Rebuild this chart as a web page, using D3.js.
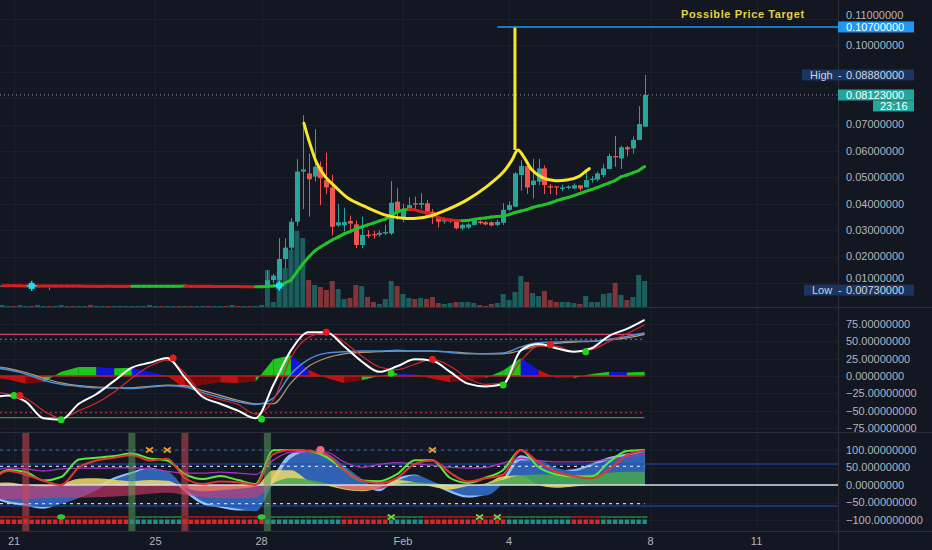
<!DOCTYPE html>
<html><head><meta charset="utf-8">
<script src="https://cdn.jsdelivr.net/npm/d3@7/dist/d3.min.js"></script>
<style>html,body{margin:0;padding:0;background:#131722;overflow:hidden}svg{display:block}text{font-family:"Liberation Sans",Arial,sans-serif}</style>
</head><body><svg id="chart" width="932" height="550" font-family="Liberation Sans, Arial, sans-serif"></svg>
<script>
// ---------------- DATA ----------------
// 4h candles starting 2021-01-20 16:00 UTC
const OPEN = [
.0089,.0089,.0089,.0088,.0089,.0089,.0088,.0088,.0089,.0088,
.0088,.0088,.0088,.0087,.0088,.0088,.0087,.0087,.0088,.0087,
.0087,.0087,.0087,.0087,.0088,.0088,.0088,.0089,.0088,.0088,
.0089,.0088,.0088,.0087,.0087,.0087,.0086,.0086,.0087,.0086,
.0086,.0085,.0086,.0085,.0085,
.0089,.0111,.0112,.0191,.0234,.0332,.0522,.0515,.0503,.0540,
.0490,.0462,.0318,.0319,.0335,.0322,.0244,.0283,.0285,.0283,
.0288,.0288,.0408,.0349,.0377,.0402,.0397,.0402,.0370,.0349,
.0333,.0334,.0335,.0307,.0310,.0320,.0333,.0330,.0330,.0320,
.0328,.0377,.0389,.0509,.0543,.0471,.0484,.0534,.0467,.0466,
.0457,.0460,.0458,.0470,.0462,.0490,.0492,.0509,.0532,.0581,
.0572,.0614,.0610,.0642,.0692];
const HIGH = [
.0091,.0090,.0090,.0090,.0091,.0090,.0089,.0090,.0090,.0089,
.0089,.0090,.0089,.0089,.0090,.0089,.0088,.0089,.0089,.0088,
.0088,.0089,.0088,.0089,.0089,.0090,.0090,.0090,.0089,.0090,
.0090,.0089,.0089,.0088,.0088,.0088,.0087,.0088,.0088,.0087,
.0087,.0087,.0087,.0086,.0088,
.0149,.0135,.0270,.0269,.0345,.0569,.0736,.0590,.0683,.0560,
.0594,.0510,.0400,.0385,.0355,.0337,.0352,.0300,.0298,.0300,
.0320,.0486,.0459,.0400,.0425,.0427,.0440,.0415,.0380,.0355,
.0350,.0345,.0337,.0325,.0328,.0345,.0337,.0335,.0334,.0340,
.0402,.0410,.0520,.0565,.0554,.0570,.0570,.0545,.0475,.0466,
.0473,.0470,.0477,.0470,.0525,.0505,.0522,.0550,.0590,.0657,
.0620,.0620,.0655,.0770,.0888];
const LOW = [
.0087,.0088,.0087,.0087,.0088,.0087,.0087,.0087,.0073,.0087,
.0087,.0086,.0086,.0086,.0087,.0086,.0086,.0086,.0086,.0086,
.0086,.0086,.0086,.0086,.0087,.0087,.0087,.0087,.0087,.0087,
.0087,.0087,.0086,.0086,.0086,.0085,.0085,.0085,.0085,.0085,
.0084,.0084,.0084,.0084,.0084,
.0085,.0100,.0110,.0156,.0225,.0315,.0380,.0351,.0484,.0395,
.0437,.0280,.0313,.0295,.0300,.0232,.0232,.0270,.0268,.0275,
.0282,.0282,.0339,.0330,.0372,.0380,.0380,.0363,.0323,.0310,
.0325,.0327,.0303,.0300,.0305,.0318,.0322,.0318,.0314,.0315,
.0320,.0372,.0389,.0450,.0437,.0420,.0470,.0437,.0437,.0433,
.0448,.0455,.0455,.0450,.0462,.0480,.0485,.0500,.0530,.0540,
.0532,.0580,.0590,.0642,.0692];
const CLOSE = [
.0089,.0089,.0088,.0089,.0089,.0088,.0088,.0089,.0088,.0088,
.0088,.0088,.0087,.0088,.0088,.0087,.0087,.0088,.0087,.0087,
.0087,.0087,.0087,.0088,.0088,.0088,.0089,.0088,.0088,.0089,
.0088,.0088,.0087,.0087,.0087,.0086,.0086,.0087,.0086,.0086,
.0085,.0086,.0085,.0085,.0086,
.0111,.0128,.0191,.0234,.0332,.0522,.0530,.0493,.0540,.0497,
.0462,.0313,.0330,.0331,.0325,.0244,.0282,.0278,.0280,.0290,
.0293,.0404,.0370,.0377,.0395,.0397,.0403,.0370,.0349,.0332,
.0344,.0337,.0307,.0320,.0322,.0339,.0327,.0322,.0318,.0332,
.0377,.0395,.0515,.0543,.0462,.0488,.0534,.0471,.0462,.0462,
.0462,.0465,.0470,.0458,.0490,.0495,.0515,.0534,.0581,.0576,
.0614,.0606,.0642,.0702,.08123];
const VOLUME = [
2,1,1,2,1,1,2,1,1,1,
2,1,1,1,1,2,1,1,1,1,
1,1,1,1,1,2,1,1,1,1,
1,1,1,1,1,1,1,1,1,2,
1,1,1,1,2,
37,5,35,39,57,76,69,27,22,20,
17,26,18,8,9,22,21,10,5,3,
8,26,21,13,9,8,9,8,10,4,
3,4,5,5,5,4,2,1,3,4,
13,7,15,31,25,14,11,16,7,5,
5,5,4,3,11,5,5,13,14,24,
12,7,10,32,26];
const MA = [
.00895,.00894,.00893,.00892,.00891,.00890,.00889,.00888,.00887,.00886,
.00885,.00884,.00883,.00882,.00881,.00880,.00879,.00878,.00877,.00876,
.00875,.00874,.00873,.00874,.00875,.00876,.00877,.00878,.00879,.00880,
.00881,.00882,.00880,.00878,.00876,.00874,.00872,.00870,.00868,.00866,
.00864,.00862,.00860,.00858,.00860,
.0087,.0089,.0090,.0100,.0111,.0142,.0172,.0198,.0221,.0236,
.0250,.0263,.0274,.0286,.0295,.0305,.0312,.0320,.0327,.0335,
.0342,.0354,.0369,.0377,.0379,.0377,.0371,.0365,.0358,.0348,
.0342,.0339,.0337,.0336,.0337,.0341,.0344,.0346,.0350,.0352,
.0354,.0359,.0367,.0373,.0378,.0386,.0392,.0397,.0403,.0411,
.0418,.0424,.0431,.0439,.0447,.0454,.0462,.0471,.0479,.0488,
.0502,.0509,.0517,.0526,.0541];
const signalBars = [5, 47];

// hand-drawn cup & handle: [bar position, price]
const cupPoints = [[51.2,.0705],[52.2,.0629],[53.4,.0553],[54.8,.0503],[56.5,.0465],[58.7,.0421],
[61.6,.0389],[64.9,.0358],[68.1,.0345],[70.3,.0345],[72.6,.0354],[75.4,.0377],[78.8,.0414],
[82.2,.0465],[85.1,.0522],[86.5,.0566],[87.5,.0604],[88.5,.0578],[89.9,.0528],[91.6,.0500],
[93.6,.0488],[95.8,.0490],[97.8,.0503],[99.1,.0525],[99.6,.0533]];
const spike = {bar: 87, from: 0.0604, to: 0.107};
const target = {bar: 84, price: 0.107, label: "Possible Price Target"};
const stats = {high: 0.0888, low: 0.0073, last: 0.08123, countdown: "23:16"};

const tickDates = ["2021-01-21","2021-01-25","2021-01-28","2021-02-01","2021-02-04","2021-02-08","2021-02-11"];
const tickLabels = ["21","25","28","Feb","4","8","11"];
const priceTicks = [0.01,0.02,0.03,0.04,0.05,0.06,0.07,0.08,0.09,0.10,0.11];
const priceTickLabels = [0.01,0.02,0.03,0.04,0.05,0.06,0.07,0.10,0.11]; // 0.08/0.09 sit under the price boxes
const oscTicks = [75,50,25,0,-25,-50,-75];
const mfTicks = [100,50,0,-50,-100];

// oscillator samples every 3 bars, starting at bar -2
const wt1   = [-32,-28,-37,-61,-63,-40,-26,-7,12,19,26,-2,-30,-40,-50,-61,-13,37,63,63,43,21,6,14,24,22,6,-11,-15,-12,37,46,40,35,40,58,68,81];
const wt2   = [-23,-26,-32,-50,-61,-50,-39,-23,-3,14,23,4,-26,-34,-41,-55,-35,27,56,62,49,29,13,9,17,24,14,-3,-12,-10,22,43,43,35,38,50,61,74];
const slowA = [13,9,3,-6,-12,-15,-17,-17,-18,-16,-14,-16,-24,-31,-37,-41,-32,3,24,33,35,36,36,37,36,36,34,32,32,33,42,48,49,50,50,53,57,62];
const slowB = [15,11,5,-3,-10,-14,-16,-17,-17,-15,-13,-14,-21,-28,-35,-40,-40,-10,14,26,32,34,35,36,36,36,35,33,32,32,37,44,47,49,50,52,55,60];
const hist  = [-2,-5,-11,-9,6,13,13,11,12,6,0,-18,-13,-9,-10,-8,24,30,9,-3,-10,-6,0,4,2,-4,-9,-6,-3,8,26,9,-3,-3,3,6,5,6];
const crossUp = [[2,-28],[10,-63],[44,-62],[66,4],[85,-13],[99,35]];
const crossDn = [[3,-28],[29,26],[55,63],[73,24],[93,45]];

const waveLight = [-36,-52,-60,-68,-50,-30,-5,22,38,50,30,-20,-55,-65,-73,-72,25,90,100,82,45,8,-18,20,30,2,-22,-36,-28,20,85,66,42,45,62,80,90,98];
const waveDark  = [-30,-46,-54,-63,-54,-37,-15,15,32,48,40,-9,-47,-59,-68,-75,6,77,95,89,56,18,-10,11,28,11,-14,-30,-30,5,70,71,49,40,55,72,84,95];
const waveYellow= [4,7,0,-5,3,18,19,15,11,14,12,-8,-18,-15,-11,-4,42,42,12,-1,-13,-18,-8,14,8,-5,-13,-3,4,25,27,0,-8,-4,0,3,3,3];
const moneyFlow = [-38,-40,-40,-38,-36,-36,-35,-33,-30,-25,-22,-28,-35,-38,-38,-36,5,20,15,5,-10,-15,-12,3,8,5,0,-3,2,15,28,30,30,28,30,35,38,38];
const greenLine = [9,43,37,13,23,73,78,83,90,76,70,31,17,26,14,3,99,100,97,80,43,13,11,31,71,71,20,6,21,43,100,51,30,24,24,66,97,100];
const redLine   = [8,40,30,12,0,50,70,78,86,70,75,20,3,10,8,0,88,100,97,88,42,12,5,20,60,70,35,10,19,30,100,65,38,25,19,45,85,98];
const purpleLine= [38,49,46,40,46,48,48,49,49,46,39,34,34,37,34,30,71,94,95,94,66,51,59,64,61,56,51,48,50,63,76,70,66,66,67,74,80,88];
const squareRuns = [['r',22],['t',9],['r',14],['t',13],['r',8],['t',6],['r',14],['t',11],['r',5],['t',8]];
const zoneBars = [[4,'r'],[22,'g'],[31,'r'],[45,'g']];
const xOrange = [25,28,73];
const xGreen = [66,81,84];
const blobGreen = [10,44];
const dotRed = [54];

// ---------------- SCALES ----------------
const FONT = '"Liberation Sans", Arial, sans-serif';
const W = 932, HT = 550, PX = 838;
const H4 = 4*3600e3, START = Date.UTC(2021,0,20,16);
const svg = d3.select('#chart');
const x = d3.scaleUtc().domain([Date.UTC(2021,0,21), Date.UTC(2021,1,8)]).range([14, 650.5]);
const xb = i => x(new Date(START + i*H4));
const xk = k => xb(-2 + 3*k);
const yP = d3.scaleLinear().domain([0.01, 0.11]).range([283, 19]);
const yV = d3.scaleLinear().domain([0, 77]).range([307, 230]);
const y2 = d3.scaleLinear().domain([-75, 75]).range([428, 324]);
const y3 = d3.scaleLinear().domain([-100, 100]).range([520, 450]);

svg.append('rect').attr('width',W).attr('height',HT).attr('fill','#131722');
const defs = svg.append('defs');
function clip(id,x0,y0,w,h){defs.append('clipPath').attr('id',id).append('rect').attr('x',x0).attr('y',y0).attr('width',w).attr('height',h);}
clip('cMain',0,0,PX,307); clip('c2',0,308,PX,124); clip('c3',0,433,PX,98);
clip('cPos',0,433,PX,y3(0)-433); clip('cNeg',0,y3(0),PX,531-y3(0));

// ---------------- GRID ----------------
const grid = svg.append('g').attr('stroke','#1c202c').attr('stroke-width',1);
tickDates.forEach(d=>{const xx=Math.round(x(new Date(d+'T00:00:00Z')))+0.5;
  grid.append('line').attr('x1',xx).attr('x2',xx).attr('y1',0).attr('y2',531);});
priceTicks.forEach(v=>{const yy=Math.round(yP(v))+0.5; grid.append('line').attr('x1',0).attr('x2',PX).attr('y1',yy).attr('y2',yy);});
oscTicks.forEach(v=>{const yy=Math.round(y2(v))+0.5; grid.append('line').attr('x1',0).attr('x2',PX).attr('y1',yy).attr('y2',yy);});
mfTicks.forEach(v=>{const yy=Math.round(y3(v))+0.5; grid.append('line').attr('x1',0).attr('x2',PX).attr('y1',yy).attr('y2',yy);});

// ---------------- MAIN PANEL ----------------
const gM = svg.append('g').attr('clip-path','url(#cMain)');
const TEAL='#26a69a', RED='#ef5350';
VOLUME.forEach((v,i)=>{const up=CLOSE[i]>=OPEN[i];
  gM.append('rect').attr('x',xb(i)-2.5).attr('width',5).attr('y',yV(v)).attr('height',yV(0)-yV(v))
    .attr('fill',up?TEAL:RED).attr('opacity',0.5);});
CLOSE.forEach((c,i)=>{const up=c>=OPEN[i]; const col=up?TEAL:RED; const cx=Math.round(xb(i))+0.5;
  gM.append('line').attr('x1',cx).attr('x2',cx).attr('y1',yP(HIGH[i])).attr('y2',yP(LOW[i])).attr('stroke',col);
  const yt=yP(Math.max(OPEN[i],c)), ybt=yP(Math.min(OPEN[i],c));
  gM.append('rect').attr('x',cx-2.5).attr('width',5).attr('y',yt).attr('height',Math.max(1,ybt-yt)).attr('fill',col);});
// moving average, coloured by slope
for(let i=1;i<MA.length;i++){
  gM.append('line').attr('x1',xb(i-1)).attr('y1',yP(MA[i-1])).attr('x2',xb(i)).attr('y2',yP(MA[i]))
    .attr('stroke',MA[i]>=MA[i-1]?'#22c32a':'#d81e1e').attr('stroke-width',3).attr('stroke-linecap','round');}
signalBars.forEach(i=>{const cx=xb(i), cy=yP(MA[i]);
  gM.append('rect').attr('x',cx-3).attr('y',cy-3).attr('width',6).attr('height',6).attr('fill','#18e0f0');
  gM.append('line').attr('x1',cx-5).attr('x2',cx+5).attr('y1',cy).attr('y2',cy).attr('stroke','#18e0f0').attr('stroke-width',1.5);
  gM.append('line').attr('x1',cx).attr('x2',cx).attr('y1',cy-5).attr('y2',cy+5).attr('stroke','#18e0f0').attr('stroke-width',1.5);});
// last price dotted line
gM.append('line').attr('x1',0).attr('x2',PX).attr('y1',yP(stats.last)).attr('y2',yP(stats.last))
  .attr('stroke','#8f98a6').attr('stroke-dasharray','1,3');
// target line
svg.append('line').attr('x1',xb(target.bar)).attr('x2',PX).attr('y1',yP(target.price)).attr('y2',yP(target.price))
  .attr('stroke','#2196f3').attr('stroke-width',1.5);
// cup
const cupLine = d3.line().x(d=>x(new Date(START+d[0]*H4))).y(d=>yP(d[1])).curve(d3.curveCatmullRom);
gM.append('path').attr('d',cupLine(cupPoints)).attr('fill','none').attr('stroke','#f6e72b').attr('stroke-width',3).attr('stroke-linecap','round');
gM.append('line').attr('x1',xb(spike.bar)).attr('x2',xb(spike.bar)).attr('y1',yP(spike.from)).attr('y2',yP(spike.to))
  .attr('stroke','#f6e72b').attr('stroke-width',3);
svg.append('text').attr('x',681).attr('y',18).attr('fill','#e3d23c').attr('font-family',FONT).attr('font-size',11)
  .attr('font-weight','bold').attr('letter-spacing','0.6').text(target.label);

// ---------------- PANEL 2 (WaveTrend) ----------------
const g2 = svg.append('g').attr('clip-path','url(#c2)');
const hline=(g,y,col,dash,w,x2)=>g.append('line').attr('x1',0).attr('x2',x2||xb(109)).attr('y1',y).attr('y2',y)
  .attr('stroke',col).attr('stroke-width',w||1).attr('stroke-dasharray',dash||null);
hline(g2,y2(60),'#d8406e',null,1.3); hline(g2,y2(53),'#7d8593','2,3');
hline(g2,y2(-53),'#d83a3a','2,3'); hline(g2,y2(-60),'#3c8f44',null,1.3);
for(let k=1;k<hist.length;k++){
  const h=hist[k], p=hist[k-1]; let col;
  if(h>=0) col = h>=p?'#1fc41f':'#1414d8'; else col = h<p?'#c80f0f':'#7a0a0a';
  const pts=[[xk(k-1),y2(0)],[xk(k-1),y2(p)],[xk(k),y2(h)],[xk(k),y2(0)]];
  g2.append('path').attr('d','M'+pts.join('L')+'Z').attr('fill',col);}
hline(g2,y2(0),'#b82020',null,1.5);
const ln2=arr=>d3.line().x((d,k)=>xk(k)).y(d=>y2(d)).curve(d3.curveMonotoneX)(arr);
g2.append('path').attr('d',ln2(slowB)).attr('fill','none').attr('stroke','#b89a74').attr('stroke-width',1.2);
g2.append('path').attr('d',ln2(slowA)).attr('fill','none').attr('stroke','#4f8fd6').attr('stroke-width',1.5);
g2.append('path').attr('d',ln2(wt2)).attr('fill','none').attr('stroke','#d32828').attr('stroke-width',1.2);
g2.append('path').attr('d',ln2(wt1)).attr('fill','none').attr('stroke','#ffffff').attr('stroke-width',2);
crossUp.forEach(d=>g2.append('circle').attr('cx',xb(d[0])).attr('cy',y2(d[1])).attr('r',3.5).attr('fill','#20d420'));
crossDn.forEach(d=>g2.append('circle').attr('cx',xb(d[0])).attr('cy',y2(d[1])).attr('r',3.5).attr('fill','#e41c1c'));

// ---------------- PANEL 3 ----------------
const g3 = svg.append('g').attr('clip-path','url(#c3)');
const ar3=arr=>d3.area().x((d,k)=>xk(k)).y0(y3(0)).y1(d=>y3(d)).curve(d3.curveMonotoneX)(arr);
const ln3=arr=>d3.line().x((d,k)=>xk(k)).y(d=>y3(d)).curve(d3.curveMonotoneX)(arr);
g3.append('path').attr('d',ar3(waveLight)).attr('fill','#8fbdf6');
g3.append('path').attr('d',ar3(waveDark)).attr('fill','#2f62b3');
g3.append('path').attr('d',ar3(waveYellow)).attr('fill','#ecd86a').attr('opacity',0.88);
g3.append('g').attr('clip-path','url(#cNeg)').append('path').attr('d',ar3(moneyFlow)).attr('fill','#d8396a').attr('opacity',0.6);
g3.append('g').attr('clip-path','url(#cPos)').append('path').attr('d',ar3(moneyFlow)).attr('fill','#44a84a').attr('opacity',0.85);
// levels
hline(g3,y3(60),'#1f4fb8',null,1.2,PX); hline(g3,y3(-60),'#1f4fb8',null,1.2,PX);
hline(g3,y3(0),'#d9dce3',null,1.3,PX);
hline(g3,y3(100),'#2f6de0','3,4',1.2); hline(g3,y3(53),'#c9cde8','3,4',1.2); hline(g3,y3(-53),'#c9cde8','3,4',1.2);
g3.append('path').attr('d',ln3(purpleLine)).attr('fill','none').attr('stroke','#a333c4').attr('stroke-width',1.3);
g3.append('path').attr('d',ln3(greenLine)).attr('fill','none').attr('stroke','#5ae83a').attr('stroke-width',2);
g3.append('path').attr('d',ln3(redLine)).attr('fill','none').attr('stroke','#e3342f').attr('stroke-width',2);
zoneBars.forEach(d=>g3.append('rect').attr('x',xb(d[0])-3.5).attr('width',7).attr('y',433).attr('height',98)
  .attr('fill',d[1]==='r'?'rgba(200,75,85,0.55)':'rgba(95,165,95,0.5)'));
// squares row
let sq=[]; squareRuns.forEach(r=>{for(let j=0;j<r[1];j++) sq.push(r[0]);});
sq.forEach((c,i)=>{
  g3.append('rect').attr('x',xb(i)-2.9).attr('width',5.8).attr('y',516).attr('height',2).attr('fill',c==='r'?'#9a1616':'#1d6b3a');
  g3.append('rect').attr('x',xb(i)-2.2).attr('width',4.4).attr('y',519.5).attr('height',4.5).attr('fill',c==='r'?'#e02424':'#1f8f88');});
const xMark=(g,cx,cy,col)=>{g.append('path').attr('d',`M${cx-3.5},${cy-2.5}L${cx+3.5},${cy+2.5}M${cx-3.5},${cy+2.5}L${cx+3.5},${cy-2.5}`)
  .attr('stroke',col).attr('stroke-width',1.6);};
xOrange.forEach(i=>xMark(g3,xb(i),y3(100),'#eea52a'));
xGreen.forEach(i=>xMark(g3,xb(i),517,'#7fd043'));
blobGreen.forEach(i=>g3.append('ellipse').attr('cx',xb(i)).attr('cy',517).attr('rx',4).attr('ry',2.8).attr('fill','#36c636'));
dotRed.forEach(i=>g3.append('circle').attr('cx',xb(i)).attr('cy',y3(100)).attr('r',4).attr('fill','#f06b78'));

// ---------------- SEPARATORS & AXES ----------------
const sep = svg.append('g').attr('stroke','#2a2e39').attr('stroke-width',1);
[307.5,432.5,531.5].forEach(yy=>sep.append('line').attr('x1',0).attr('x2',W).attr('y1',yy).attr('y2',yy));
sep.append('line').attr('x1',PX+0.5).attr('x2',PX+0.5).attr('y1',0).attr('y2',HT);

const axT = svg.append('g').attr('font-size',11).attr('font-family',FONT).attr('fill','#b2b5be');
const fmt = v => (v<0?'\u2212':'') + Math.abs(v).toFixed(8);
// labels squeezed by price boxes are nudged away from them
const nudge = v => v===0.01 ? -4.5 : (v===0.11 ? -3.5 : 0);
priceTickLabels.forEach(v=>axT.append('text').attr('x',846).attr('y',yP(v)+nudge(v)).attr('dy','0.35em').text(fmt(v)));
oscTicks.forEach(v=>axT.append('text').attr('x',846).attr('y',y2(v)).attr('dy','0.35em').text(fmt(v)));
mfTicks.forEach(v=>axT.append('text').attr('x',846).attr('y',y3(v)).attr('dy','0.35em').text(fmt(v)));
tickDates.forEach((d,i)=>axT.append('text').attr('x',x(new Date(d+'T00:00:00Z'))).attr('y',541).attr('dy','0.35em')
  .attr('text-anchor','middle').text(tickLabels[i]));

// price labels
function box(x0,x1,yc,fill){svg.append('rect').attr('x',x0).attr('width',x1-x0).attr('y',yc-5.5).attr('height',11).attr('fill',fill);}
function txt(xx,yy,s,col,anchor){svg.append('text').attr('x',xx).attr('y',yy).attr('dy','0.35em').attr('font-size',11)
  .attr('font-family',FONT).attr('fill',col).attr('text-anchor',anchor||'start').text(s);}
box(PX,914,yP(target.price),'#2196f3'); txt(846,yP(target.price),fmt(target.price),'#ffffff');
box(802,914,yP(stats.high),'#1b3560'); txt(810,yP(stats.high),'High','#d1d4dc'); txt(838,yP(stats.high),'-','#d1d4dc'); txt(846,yP(stats.high),fmt(stats.high),'#d1d4dc');
box(PX,914,yP(stats.last),'#26a69a'); txt(846,yP(stats.last),fmt(stats.last),'#ffffff');
box(873,914,yP(stats.last)+11,'#26a69a'); txt(880,yP(stats.last)+11,stats.countdown,'#ffffff');
box(804,914,yP(stats.low),'#1b3560'); txt(812,yP(stats.low),'Low','#d1d4dc'); txt(838,yP(stats.low),'-','#d1d4dc'); txt(846,yP(stats.low),fmt(stats.low),'#d1d4dc');
</script></body></html>
